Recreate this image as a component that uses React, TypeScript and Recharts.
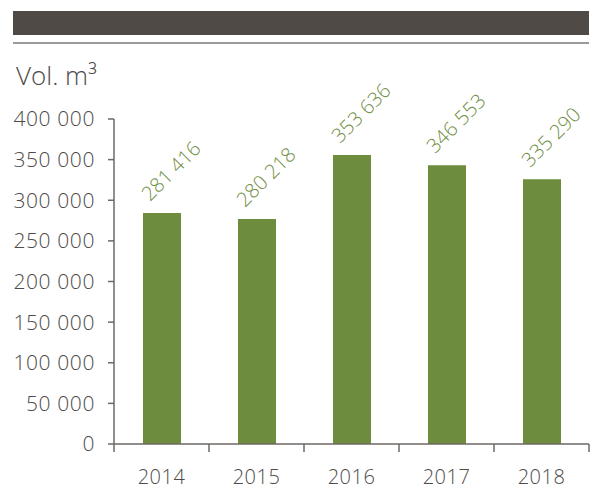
import { BarChart, Bar, XAxis, YAxis, LabelList } from 'recharts';

const YEARS = ['2014', '2015', '2016', '2017', '2018'];
const VOLUMES = [284300, 277000, 355700, 343000, 326000];
const LABELS = ['281 416', '280 218', '353 636', '346 553', '335 290'];
const Y_TICKS = [0, 50000, 100000, 150000, 200000, 250000, 300000, 350000, 400000];

const data = YEARS.map((year, i) => ({ year, vol: VOLUMES[i], label: LABELS[i] }));

const W = 593;
const H = 489;
const M = { top: 119, right: 4, bottom: 15, left: 0 };
const Y_W = 114;
const HALF_BAND = (W - M.left - M.right - Y_W) / YEARS.length / 2;

const FONT = '"Open Sans", sans-serif';
const TEXT = '#4e4a47';
const AXIS = '#6c6865';
const GREEN = '#6e8c3e';

const fmt = (v: number) => (v === 0 ? '0' : `${Math.round(v / 1000)} 000`);

const XTick = ({ x, y, payload, index }: any) => (
    <g>
        <line x1={x - HALF_BAND} x2={x - HALF_BAND} y1={y} y2={y + 8} stroke={AXIS} strokeWidth={1.5} />
        {index === YEARS.length - 1 && (
            <line x1={x + HALF_BAND} x2={x + HALF_BAND} y1={y} y2={y + 8} stroke={AXIS} strokeWidth={1.5} />
        )}
        <text x={x} y={y + 40} textAnchor="middle" fill={TEXT} fontSize={20} fontWeight={300}
            fontFamily={FONT} letterSpacing={0.5}>
            {payload.value}
        </text>
    </g>
);

const ValueLabel = ({ x, y, width, index }: any) => {
    const tx = x + width / 2 - 12;
    const ty = y - 11;
    return (
        <text x={tx} y={ty} transform={`rotate(-45 ${tx} ${ty})`} fill={GREEN} fontSize={20}
            fontWeight={300} fontFamily={FONT}>
            {LABELS[index]}
        </text>
    );
};

export default function App() {
    return (
        <div style={{ position: 'absolute', left: 0, top: 0, width: W, height: H, background: '#fff', fontFamily: FONT }}>
            <div style={{ position: 'absolute', left: 13, top: 11, width: 576, height: 24, background: '#4f4a45' }} />
            <div style={{ position: 'absolute', left: 13, top: 42, width: 576, height: 1.5, background: '#9c9a98' }} />
            <div style={{ position: 'absolute', left: 16, top: 58, fontSize: 26, fontWeight: 300, color: TEXT, lineHeight: '34px' }}>
                Vol. m³
            </div>
            <BarChart width={W} height={H} data={data} margin={M} barSize={38}>
                <YAxis domain={[0, 400000]} ticks={Y_TICKS} tickFormatter={fmt} width={Y_W}
                    tickSize={6} tickMargin={13} interval={0}
                    axisLine={{ stroke: AXIS, strokeWidth: 1.5 }} tickLine={{ stroke: AXIS, strokeWidth: 1.5 }}
                    tick={{ fill: TEXT, fontSize: 21, fontWeight: 300, fontFamily: FONT, letterSpacing: 0.6 }} />
                <XAxis dataKey="year" height={30} tickSize={0} tickMargin={0} interval={0}
                    axisLine={{ stroke: AXIS, strokeWidth: 1.5 }} tickLine={false} tick={<XTick />} />
                <Bar dataKey="vol" fill={GREEN} isAnimationActive={false}>
                    <LabelList dataKey="label" content={<ValueLabel />} />
                </Bar>
            </BarChart>
        </div>
    );
}
